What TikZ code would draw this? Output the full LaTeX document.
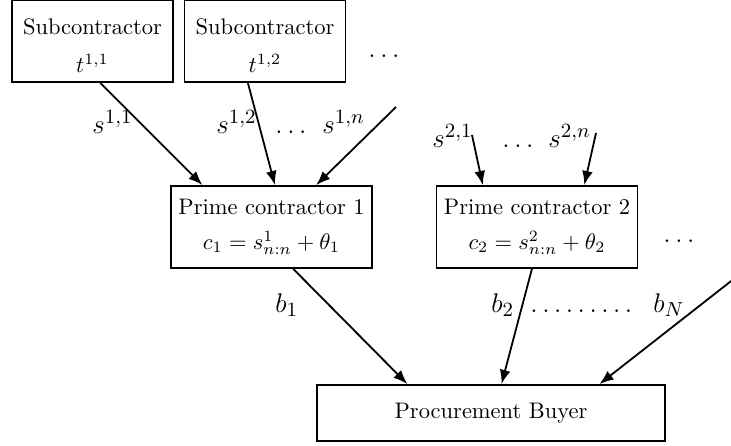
\documentclass[tikz,border=0pt]{standalone}
\usetikzlibrary{arrows.meta,calc}

\tikzset{
  box/.style={draw, line width=0.8pt, rectangle, align=center, inner sep=0pt},
  subbox/.style={box, minimum width=71.6pt, minimum height=36.4pt},
  primebox/.style={box, minimum width=89.4pt, minimum height=36.4pt},
  buyerbox/.style={box, minimum width=154.7pt, minimum height=24.9pt},
  flow/.style={line width=0.8pt, -{Latex[length=6.3pt,width=4.8pt]}},
  lab/.style={anchor=base west, inner sep=0pt, font=\fontsize{13}{15}\selectfont},
}

\begin{document}
\begin{tikzpicture}[x=0.4444pt, y=-0.4444pt]
  \useasboundingbox (0,0) rectangle (731,445);

  % subcontractors of prime contractor 1
  \node[subbox] (sub1) at (92.5,41) {\rule{0pt}{11.2pt}Subcontractor\\[4.8pt]$t^{1,1}$};
  \node[subbox] (sub2) at (265,41) {\rule{0pt}{11.2pt}Subcontractor\\[4.8pt]$t^{1,2}$};
  \node[lab] (topdots) at (368,57) {$\ldots$};

  % prime contractors
  \node[primebox] (prime1) at (271.5,227) {Prime contractor 1\\[3.4pt]$c_1 = s^1_{n:n} + \theta_1$};
  \node[primebox] (prime2) at (537,227) {Prime contractor 2\\[3.4pt]$c_2 = s^2_{n:n} + \theta_2$};
  \node[lab] (rightdots) at (663,242) {$\ldots$};

  % buyer
  \node[buyerbox] (buyer) at (491,413) {Procurement Buyer};

  % free ends of the remaining bids
  \coordinate (f1n) at (396,107);
  \coordinate (f21) at (472,135);
  \coordinate (f2n) at (596,133);
  \coordinate (fN) at (735,278);

  % subcontractor bids to prime contractor 1
  \draw[flow] ($(sub1.south west)!0.547!(sub1.south east)$) -- ($(prime1.north west)!0.16!(prime1.north east)$);
  \draw[flow] ($(sub2.south west)!0.395!(sub2.south east)$) -- ($(prime1.north west)!0.517!(prime1.north east)$);
  \draw[flow] (f1n) -- ($(prime1.north west)!0.72!(prime1.north east)$);

  % subcontractor bids to prime contractor 2
  \draw[flow] (f21) -- ($(prime2.north west)!0.233!(prime2.north east)$);
  \draw[flow] (f2n) -- ($(prime2.north west)!0.733!(prime2.north east)$);

  % prime bids to the buyer
  \draw[flow] ($(prime1.south west)!0.607!(prime1.south east)$) -- ($(buyer.north west)!0.261!(buyer.north east)$);
  \draw[flow] ($(prime2.south west)!0.475!(prime2.south east)$) -- ($(buyer.north west)!0.53!(buyer.north east)$);
  \draw[flow] (fN) -- ($(buyer.north west)!0.81!(buyer.north east)$);

  % bid labels
  \node[lab] (s11) at (92,133) {$s^{1,1}$};
  \node[lab] (s12) at (216,133) {$s^{1,2}$};
  \node[lab] (s1dots) at (275,133) {$\ldots$};
  \node[lab] (s1n) at (322,133) {$s^{1,n}$};

  \node[lab] (s21) at (432,147) {$s^{2,1}$};
  \node[lab] (s2dots) at (502,147) {$\ldots$};
  \node[lab] (s2n) at (548,147) {$s^{2,n}$};

  \node[lab] (b1) at (275,312) {$b_1$};
  \node[lab] (b2) at (491,312) {$b_2$};
  \node[lab] (bdots) at (530,312) {$\ldots\ldots\ldots$};
  \node[lab] (bN) at (653,312) {$b_N$};
\end{tikzpicture}
\end{document}
